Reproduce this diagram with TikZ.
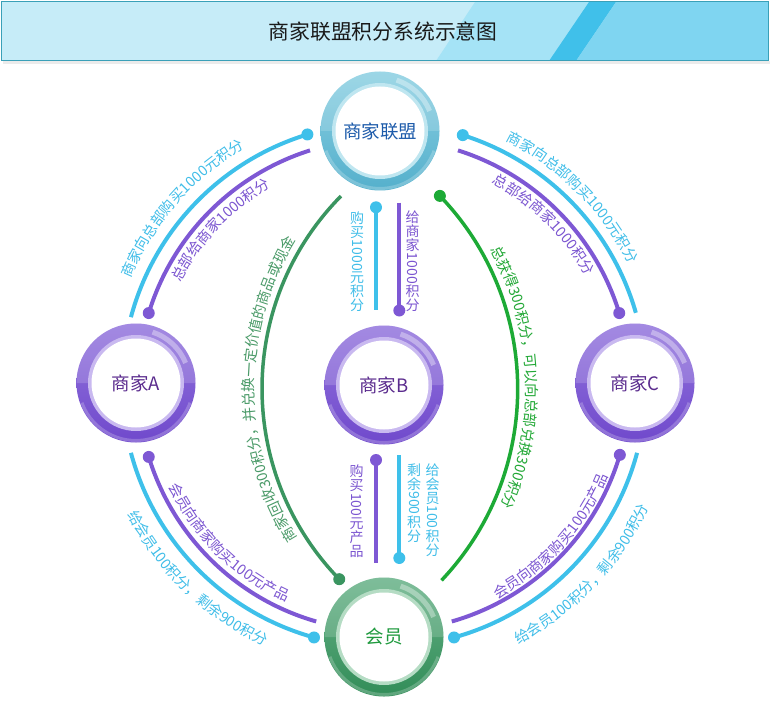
\documentclass[tikz,border=0pt]{standalone}
\usepackage{fontspec}
\setmainfont{Noto Sans CJK SC}
\usepackage{graphicx}
\usetikzlibrary{decorations.text,calc}
\definecolor{cyanL}{HTML}{3EC0EA}
\definecolor{purpL}{HTML}{7E58D4}
\definecolor{greenD}{HTML}{3A9560}
\definecolor{greenB}{HTML}{1DAA36}
\definecolor{cyanT}{HTML}{40BDE8}
\definecolor{purpT}{HTML}{7B55D0}
\definecolor{greenDT}{HTML}{4A9A68}
\definecolor{greenBT}{HTML}{22A836}
\definecolor{titleA}{HTML}{C6ECF8}
\definecolor{titleB}{HTML}{A5E3F6}
\definecolor{titleC}{HTML}{40C0EA}
\definecolor{titleD}{HTML}{7FD5F1}
\definecolor{titleE}{HTML}{3AA0B8}
\definecolor{purptop}{HTML}{9274DD}
\definecolor{purpbot}{HTML}{7049CC}
\definecolor{purprim}{HTML}{C9B9F0}
\definecolor{purptxt}{HTML}{5B2C8E}
\definecolor{tealtop}{HTML}{8ACFE2}
\definecolor{tealbot}{HTML}{55B0CC}
\definecolor{tealrim}{HTML}{BFE6F0}
\definecolor{tealtxt}{HTML}{1D5BAA}
\definecolor{grntop}{HTML}{66B187}
\definecolor{grnbot}{HTML}{328D58}
\definecolor{grnrim}{HTML}{B5DCC4}
\definecolor{grntxt}{HTML}{1F9A3E}
\newcommand\rd[1]{\raisebox{0.85em}{\rotatebox{-90}{#1}}}
\begin{document}
\begin{tikzpicture}[x=1pt,y=1pt,
  ringnode/.style={circle, inner sep=0pt, minimum size=119pt,
    top color=#1top, bottom color=#1bot, text=#1txt,
    font=\fontsize{18.5}{19}\selectfont,
    path picture={
      \coordinate (pc) at (path picture bounding box.center);
      \fill[white, opacity=0.16] (pc) ++(0:60) arc[start angle=0,end angle=180,radius=60] -- cycle;
      \draw[white, opacity=0.35, line width=5pt] (pc) ++(22:53.5) arc[start angle=22,end angle=72,radius=53.5];
      \draw[white, opacity=0.22, line width=3pt] (pc) ++(200:57.5) arc[start angle=200,end angle=340,radius=57.5];
      \fill[#1rim] (pc) circle(48);
      \fill[white] (pc) circle(44.5);
    }},
  cyarc/.style={draw=cyanL, line width=4pt},
  pparc/.style={draw=purpL, line width=4pt},
  gdarc/.style={draw=greenD, line width=3.5pt},
  gbarc/.style={draw=greenB, line width=3.5pt},
  arctxt/.style 2 args={decorate, decoration={text along path, text align=center,
    text color=#2, text={|\fontsize{14.5}{15}\selectfont|#1}}},
  vtext/.style={align=center, inner sep=0pt, anchor=north, font=\fontsize{14}{14}\selectfont}
]
\useasboundingbox (0,0) rectangle (770,713);
% title bar
\fill[black, opacity=0.08] (3,649) rectangle (769.5,652);
\fill[titleA] (1.5,652) rectangle (768.5,711);
\fill[titleB] (436,652) -- (475,711) -- (768.5,711) -- (768.5,652) -- cycle;
\fill[titleC] (549,652) -- (589,711) -- (616,711) -- (576,652) -- cycle;
\fill[titleD] (576,652) -- (616,711) -- (768.5,711) -- (768.5,652) -- cycle;
\draw[titleE, line width=1pt] (1.5,652) rectangle (768.5,711);
\node[font=\fontsize{20.8}{21}\selectfont, text=black!90] (title) at (383,681) {商家联盟积分系统示意图};

% circles
\node[ringnode=teal] (HQ) at (380,582) {商家联盟};
\node[ringnode=purp] (A) at (136,330) {商家A};
\node[ringnode=purp] (B) at (384,328) {商家B};
\node[ringnode=purp] (C) at (635,330) {商家C};
\node[ringnode=grn] (M) at (384,76) {会员};

\coordinate (O) at (B.center);

% top-left pair
\draw[cyarc] ($(O)+(165:262)$) arc[start angle=165,end angle=107,radius=262] coordinate (tlc);
\fill[cyanL] (tlc) circle(6);
\coordinate (tlp) at ($(O)+(163:246)$);
\fill[purpL] (tlp) circle(6);
\draw[pparc] (tlp) arc[start angle=163,end angle=107.5,radius=246];
\path[arctxt={商家向总部购买1000元积分}{cyanT}] ($(O)+(173.8:275)$) arc[start angle=173.8,end angle=103.8,radius=275];
\path[arctxt={总部给商家1000积分}{purpT}] ($(O)+(171.6:228)$) arc[start angle=171.6,end angle=101.6,radius=228];

% top-right pair
\coordinate (trc) at ($(O)+(72.5:262)$);
\fill[cyanL] (trc) circle(6);
\draw[cyarc] (trc) arc[start angle=72.5,end angle=16,radius=262];
\draw[pparc] ($(O)+(72.5:246)$) arc[start angle=72.5,end angle=17,radius=246] coordinate (trp);
\fill[purpL] (trp) circle(6);
\path[arctxt={商家向总部购买1000元积分}{cyanT}] ($(O)+(79.9:273)$) arc[start angle=79.9,end angle=9.9,radius=273];
\path[arctxt={总部给商家1000积分}{purpT}] ($(O)+(80.2:229)$) arc[start angle=80.2,end angle=10.2,radius=229];

% bottom-left pair
\draw[cyarc] ($(O)+(195:262)$) arc[start angle=195,end angle=254.5,radius=262] coordinate (blc);
\fill[cyanL] (blc) circle(6);
\coordinate (blp) at ($(O)+(197:246)$);
\fill[purpL] (blp) circle(6);
\draw[pparc] (blp) arc[start angle=197,end angle=254,radius=246];
\path[arctxt={给会员100积分，剩余900积分}{cyanT}] ($(O)+(191:287)$) arc[start angle=191,end angle=261,radius=287];
\path[arctxt={会员向商家购买100元产品}{purpT}] ($(O)+(190.5:238)$) arc[start angle=190.5,end angle=260.5,radius=238];

% bottom-right pair
\draw[cyarc] ($(O)+(345:262)$) arc[start angle=345,end angle=285.5,radius=262] coordinate (brc);
\fill[cyanL] (brc) circle(6);
\coordinate (brp) at ($(O)+(343.5:246)$);
\fill[purpL] (brp) circle(6);
\draw[pparc] (brp) arc[start angle=343.5,end angle=286,radius=246];
\path[arctxt={会员向商家购买100元产品}{purpT}] ($(O)+(282.9:242)$) arc[start angle=282.9,end angle=352.9,radius=242];
\path[arctxt={给会员100积分，剩余900积分}{cyanT}] ($(O)+(281.3:292)$) arc[start angle=281.3,end angle=351.3,radius=292];

% green arcs
\coordinate (GL) at (536,324.5);
\coordinate (GR) at (239.2,324);
\draw[gdarc] ($(GL)+(135.4:274)$) arc[start angle=135.4,end angle=224.1,radius=274] coordinate (gld);
\fill[greenD] (gld) circle(6);
\path[arctxt={商家回收300积分，并兑换一定价值的商品或现金}{greenDT}] ($(GL)+(220.25:282)$) arc[start angle=220.25,end angle=140.25,radius=282];
\coordinate (grd) at ($(GR)+(43.9:278.5)$);
\fill[greenB] (grd) circle(6);
\draw[gbarc] (grd) arc[start angle=43.9,end angle=-43.4,radius=278.5];
\path[arctxt={总获得300积分，可以向总部兑换300积分}{greenBT}] ($(GR)+(42.5:287)$) arc[start angle=42.5,end angle=-37.5,radius=287];

% vertical connectors HQ - B
\coordinate (v1t) at (376,505.7); \coordinate (v1b) at (376,403);
\coordinate (v2t) at (399.3,510.3); \coordinate (v2b) at (399.3,402.5);
\draw[cyarc] (v1t) -- (v1b); \fill[cyanL] (v1t) circle(6);
\draw[pparc] (v2t) -- (v2b); \fill[purpL] (v2b) circle(6);
% vertical connectors B - M
\coordinate (v3t) at (376,253); \coordinate (v3b) at (376,150.3);
\coordinate (v4t) at (399.3,258); \coordinate (v4b) at (399.3,155);
\draw[pparc] (v3t) -- (v3b); \fill[purpL] (v3t) circle(6);
\draw[cyarc] (v4t) -- (v4b); \fill[cyanL] (v4b) circle(6);

% vertical texts
\node[vtext, text=cyanT] (t1) at (357,501.3) {购\\买\\\rd{1000}\\元\\积\\分};
\node[vtext, text=purpT] (t2) at (412.7,502.3) {给\\商\\家\\\rd{1000}\\积\\分};
\node[vtext, text=purpT] (t3) at (356.7,248) {购\\买\\\rd{100}\\元\\产\\品};
\node[vtext, text=cyanT] (t4) at (414,249.7) {剩\\余\\\rd{900}\\积\\分};
\node[vtext, text=cyanT] (t5) at (432.7,249.7) {给\\会\\员\\\rd{100}\\积\\分};
\end{tikzpicture}
\end{document}
